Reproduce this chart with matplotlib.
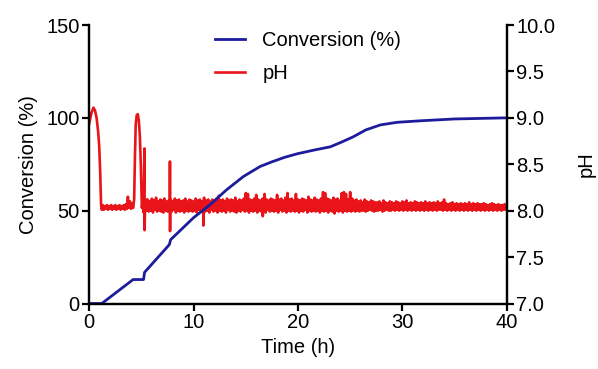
import matplotlib
matplotlib.use('Agg')
import matplotlib.pyplot as plt
import numpy as np

plt.rcParams['font.family'] = 'Liberation Sans'
plt.rcParams['font.size'] = 14.5

# conversion (%) vs time (h)
conv_t = [0, 1.2, 4.2, 5.2, 5.3, 7.67, 7.8, 9.97, 11.57, 13.17, 14.77, 16.37, 17.5, 18.7,
          19.9, 21.5, 23.1, 24.2, 25.3, 26.5, 27.9, 29.5, 31.7, 35, 40]
conv = [0, 0, 12.9, 12.9, 16.8, 31.7, 34.4, 46.1, 53.2, 61.3, 68.4, 73.8, 76.3, 78.7,
        80.6, 82.6, 84.4, 87.0, 89.8, 93.5, 96.2, 97.6, 98.4, 99.4, 100.0]

# pH, start of the run (read point by point)
ph_start_t = [0, 0.2, 0.4, 0.55, 0.7, 0.85, 0.95, 1.05, 1.13, 1.2,
              1.3, 1.4, 1.5, 1.6, 1.7, 1.8, 1.9, 2.0, 2.1, 2.2, 2.3, 2.4, 2.5, 2.6, 2.7,
              2.8, 2.9, 3.0, 3.1, 3.2, 3.3, 3.4, 3.5, 3.6, 3.7, 3.8, 3.9, 4.0, 4.1,
              4.2, 4.3, 4.38, 4.45, 4.55, 4.65, 4.75, 4.85, 4.95, 5.04, 5.12, 5.2, 5.28,
              5.30, 5.35, 5.45, 5.5]
ph_start = [8.94, 9.05, 9.11, 9.08, 9.00, 8.85, 8.70, 8.40, 8.06, 8.01,
            8.06, 8.01, 8.05, 8.02, 8.06, 8.01, 8.05, 8.02, 8.06, 8.01, 8.05, 8.02, 8.06, 8.01, 8.05,
            8.02, 8.06, 8.01, 8.05, 8.02, 8.06, 8.01, 8.07, 8.02, 8.15, 8.03, 8.10, 8.02, 8.08,
            8.03, 8.12, 8.60, 8.93, 9.03, 9.04, 8.97, 8.80, 8.45, 8.03, 8.10, 7.98, 8.67,
            7.79, 8.08, 8.00, 8.12]

# pH readings every 0.1 h from 5.6 h to 40 h
ph_grid = [
    8.12, 7.99, 8.10, 8.00, 8.13, 7.98, 8.11, 8.01, 8.14, 7.99, 8.10, 8.00, 8.12, 7.99, 8.11, 7.98, 8.13, 8.00, 8.10, 7.99,
    8.11, 8.00, 8.12, 7.99, 8.10, 8.01, 8.13, 7.98, 8.11, 8.00, 8.12, 7.99, 8.10, 8.00, 8.11, 7.98, 8.13, 8.00, 8.10, 7.99,
    8.12, 8.00, 8.11, 7.99, 8.10, 8.00, 8.13, 7.98, 8.11, 8.01, 8.12, 7.99, 8.10, 8.00, 8.14, 7.99, 8.11, 8.00, 8.12, 7.98,
    8.10, 8.01, 8.12, 7.99, 8.11, 8.00, 8.13, 7.98, 8.16, 8.00, 8.11, 7.99, 8.12, 8.00, 8.10, 7.98, 8.13, 8.01, 8.11, 7.99,
    8.12, 8.00, 8.11, 7.99, 8.14, 7.98, 8.10, 8.00, 8.12, 7.99, 8.11, 8.01, 8.13, 7.99, 8.19, 8.00, 8.18, 7.98, 8.12, 8.00,
    8.11, 7.99, 8.13, 8.00, 8.17, 7.98, 8.12, 8.00, 8.11, 7.99, 8.13, 8.00, 8.18, 7.98, 8.12, 8.01, 8.11, 7.99, 8.13, 8.00,
    8.12, 7.99, 8.11, 8.00, 8.17, 7.98, 8.12, 8.01, 8.13, 7.99, 8.11, 8.00, 8.14, 7.98, 8.19, 8.00, 8.12, 7.99, 8.13, 8.00,
    8.11, 7.99, 8.18, 8.00, 8.12, 7.98, 8.11, 8.00, 8.13, 7.99, 8.12, 8.01, 8.11, 7.98, 8.15, 8.00, 8.12, 7.99, 8.11, 8.00,
    8.14, 7.99, 8.12, 8.00, 8.11, 7.98, 8.13, 8.00, 8.20, 7.99, 8.19, 8.00, 8.13, 7.98, 8.12, 8.00, 8.11, 7.99, 8.14, 7.97,
    8.12, 8.00, 8.13, 7.99, 8.11, 8.00, 8.19, 7.98, 8.20, 8.00, 8.18, 7.99, 8.12, 8.00, 8.20, 7.99, 8.13, 8.00, 8.11, 7.99,
    8.12, 8.00, 8.10, 7.99, 8.11, 8.00, 8.09, 8.00, 8.12, 7.99, 8.10, 8.00, 8.09, 8.01, 8.11, 8.00, 8.10, 7.99, 8.09, 8.00,
    8.09, 8.00, 8.10, 8.01, 8.08, 7.99, 8.11, 8.00, 8.09, 8.01, 8.08, 8.00, 8.10, 8.00, 8.09, 8.01, 8.08, 8.00, 8.10, 8.01,
    8.09, 8.00, 8.08, 8.01, 8.10, 8.00, 8.09, 8.01, 8.11, 8.00, 8.08, 8.01, 8.09, 8.00, 8.08, 8.01, 8.10, 8.00, 8.09, 8.01,
    8.08, 8.00, 8.09, 8.01, 8.08, 8.00, 8.10, 8.01, 8.08, 8.00, 8.09, 8.01, 8.08, 8.00, 8.09, 8.01, 8.08, 8.00, 8.10, 8.01,
    8.08, 8.01, 8.09, 8.00, 8.12, 8.01, 8.08, 8.00, 8.07, 8.01, 8.08, 8.00, 8.09, 8.01, 8.07, 8.00, 8.08, 8.01, 8.07, 8.00,
    8.08, 8.01, 8.07, 8.00, 8.08, 8.01, 8.07, 8.00, 8.09, 8.01, 8.07, 8.00, 8.08, 8.01, 8.07, 8.00, 8.08, 8.01, 8.07, 8.00,
    8.07, 8.01, 8.08, 8.00, 8.07, 8.01, 8.06, 8.00, 8.07, 8.01, 8.08, 8.00, 8.07, 8.01, 8.06, 8.00, 8.07, 8.01, 8.06, 8.00,
    8.06, 8.01, 8.07, 8.01, 8.04,
]
ph_grid_t = np.linspace(5.6, 40.0, len(ph_grid))

# narrow electrode spikes
spike_t = [7.72, 7.73, 7.74, 7.75, 10.92, 10.93, 10.94, 16.62, 16.63, 16.64]
spike_ph = [8.05, 8.53, 7.78, 8.05, 8.04, 7.84, 8.05, 8.04, 7.94, 8.05]

ph_t = np.concatenate([ph_start_t, ph_grid_t, spike_t])
ph = np.concatenate([ph_start, ph_grid, spike_ph])
order = np.argsort(ph_t, kind='stable')
ph_t, ph = ph_t[order], ph[order]

blue = '#1c1c9c'
red = '#e8141a'

fig = plt.figure(figsize=(5.98, 3.69), dpi=100)
ax = fig.add_axes([0.1493, 0.1775, 0.698, 0.7547])
ax2 = ax.twinx()

l2, = ax2.plot(ph_t, ph, color=red, linewidth=1.9, label='pH')
l1, = ax.plot(conv_t, conv, color=blue, linewidth=2.0, label='Conversion (%)')

# blue on top of red
ax.set_zorder(ax2.get_zorder() + 1)
ax.patch.set_visible(False)

ax.set_xlim(0, 40)
ax.set_ylim(0, 150)
ax2.set_ylim(7.0, 10.0)
ax.set_xticks([0, 10, 20, 30, 40])
ax.set_yticks([0, 50, 100, 150])
ax2.set_yticks([7.0, 7.5, 8.0, 8.5, 9.0, 9.5, 10.0])
ax2.set_yticklabels(['7.0', '7.5', '8.0', '8.5', '9.0', '9.5', '10.0'])

for a in (ax, ax2):
    a.spines['top'].set_visible(False)
    for s in ('left', 'right', 'bottom'):
        a.spines[s].set_linewidth(1.6)
    a.tick_params(width=1.6, length=5, pad=2)

ax.set_xlabel('Time (h)', labelpad=4)
ax.set_ylabel('Conversion (%)', labelpad=6)
ax2.set_ylabel('pH', labelpad=15)

ax.legend([l1, l2], ['Conversion (%)', 'pH'], loc='upper left',
          bbox_to_anchor=(0.258, 1.045), frameon=False, handlelength=1.5,
          handletextpad=0.85, labelspacing=0.72)

fig.savefig('out.png', dpi=100)
